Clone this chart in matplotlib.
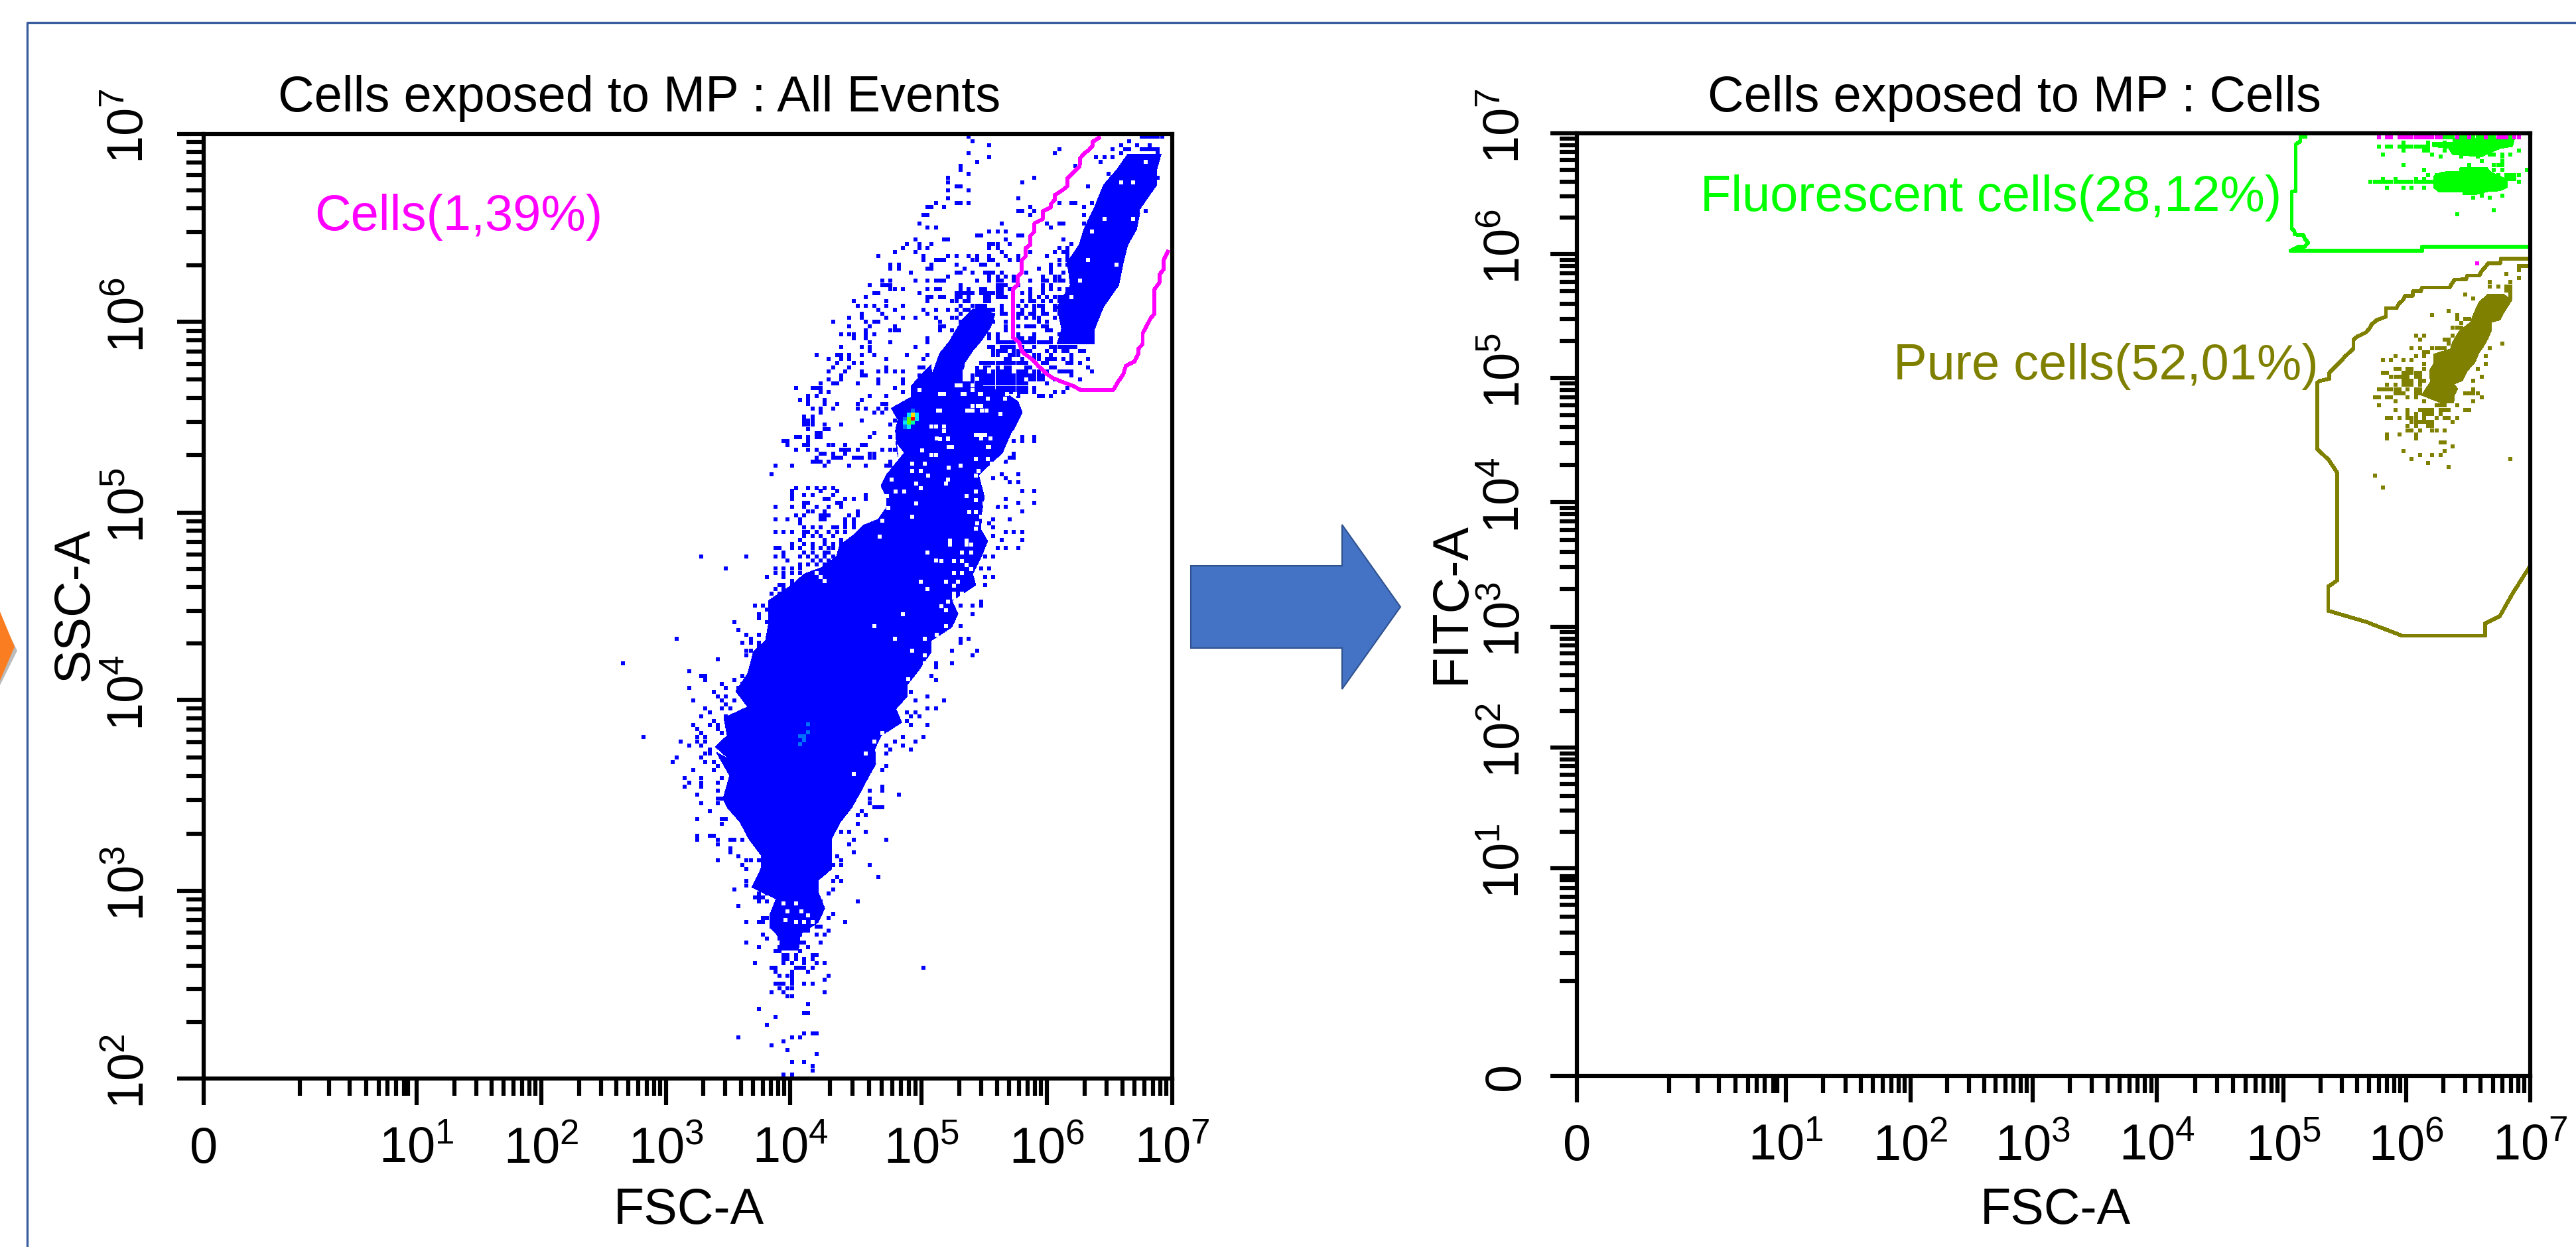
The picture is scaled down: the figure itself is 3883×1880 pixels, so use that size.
import matplotlib
matplotlib.use("Agg")
import matplotlib.pyplot as plt
import numpy as np
from matplotlib.patches import Polygon
from matplotlib.lines import Line2D
from matplotlib.transforms import ScaledTranslation

plt.rcParams["font.family"] = ["Liberation Sans", "DejaVu Sans"]
plt.rcParams["mathtext.default"] = "regular"

W, H = 3883, 1881
DPI = 100
FS = 54.5
CELL_S = 20
GATE_LW = 3.4

# everything below is in instrument channels (one channel = one plot cell)
# decade ticks, left plot
left_xticks = [0, 51.8, 82.1, 112.4, 142.6, 174.5, 205, 235.5]
left_yticks = [0, 45.6, 92.1, 137.6, 184, 229.8]
left_ylabels = ["$10^{2}$", "$10^{3}$", "$10^{4}$", "$10^{5}$", "$10^{6}$", "$10^{7}$"]
# decade ticks, right plot
right_xticks = [0, 50.8, 81.1, 110.8, 141, 171.8, 201.6, 231.8]
right_yticks = [0, 50.5, 79.8, 109.2, 139.5, 169.7, 199.8, 229.2]
xlabels = ["0", "$10^{1}$", "$10^{2}$", "$10^{3}$", "$10^{4}$", "$10^{5}$", "$10^{6}$", "$10^{7}$"]
right_ylabels = xlabels

# dense part of all events
core_x = [139.8, 140.3, 137.6, 137.6, 139.2, 133.3, 135.5, 135.5, 132.5, 130.4, 127.4, 126.3, 127.9, 124.7,
          128, 124.4, 127.3, 126.5, 132.3, 129.4, 132.3, 133.7, 136.6, 137.3, 137.3, 143, 146, 150.3, 153.9,
          154.6, 158.2, 160.3, 164, 166, 166, 164.7, 166, 170.4, 168.3, 168.8, 168.2, 168.8, 167.2, 172, 172,
          176.9, 177, 179, 181.2, 182.8, 184.4, 187.1, 192.4, 191.4, 189.2, 187, 185, 184.4, 195, 198, 199,
          197, 196.3, 194.2, 188.4, 189.8, 189.1, 189, 190.6, 189.1, 187, 187.7, 181.9, 183.4, 181.9, 176.9,
          176.9, 174, 171.1, 171.1, 168.3, 169.7, 164.7, 163.2, 163.4, 161.8, 159.7, 157.5, 154.8, 152.7,
          152.7, 152.7, 149.4, 149.4, 151, 149.4, 145.1, 144.6]
core_y = [31.2, 34, 36.9, 39.7, 43.7, 46.5, 51, 54.4, 58.4, 62.4, 65.8, 68, 73.7, 79.3,
          77.5, 80.7, 83.4, 87.7, 90.4, 94.2, 98.5, 103.8, 106.5, 110.3, 116.2, 120, 122.7, 124.3, 127,
          129.6, 132.3, 134.5, 136, 138.8, 141.5, 144.2, 146.8, 152.2, 154.9, 151.2, 157.6, 160.3, 163, 165.7, 168.4,
          173.7, 171, 176.4, 179.1, 181.8, 184.5, 187.2, 186, 182.9, 179.6, 177, 174, 170, 166.7, 164.6, 162,
          158, 157, 152.2, 146.8, 141.5, 137.2, 133.4, 130.7, 127, 122.7, 120, 116.2, 113, 109.8, 106.5,
          103.8, 99.5, 95.8, 93, 89.9, 86.6, 83.4, 80.2, 76.5, 73.7, 69.7, 65.8, 62.4, 58.4,
          54.4, 51, 48.2, 45.4, 41.4, 38, 35.2, 31.2]
lobe_x = [218.8, 222, 224.7, 232.8, 231.7, 231.7, 227.9, 226.8, 224.7, 223.6, 222.5, 218.8, 216.6, 216.6,
          207.5, 208.6, 207.5, 210.7, 210, 212.9, 214, 216.6]
lobe_y = [217.3, 221, 224.8, 224.8, 221, 217.3, 211.9, 206.5, 202.8, 198.5, 193, 187.7, 182.3, 178.6,
          178.6, 182.3, 187.7, 193, 198.5, 202.8, 206.5, 211.9]

# single events, row by row
blue_rows_y = [229, 228, 227, 226, 225, 224, 223, 222, 221, 220, 219, 218, 217, 216, 214, 213, 212, 211, 210,
               208, 207, 206, 205, 204, 203, 202, 201, 200, 199, 198, 197, 196, 195, 194, 193, 192, 191, 190,
               189, 188, 187, 186, 185, 184, 183, 182, 181, 180, 179, 178, 177, 176, 175, 174, 173, 172, 171,
               170, 169, 168, 167, 166, 165, 164, 163, 162, 161, 160, 159, 158, 157, 156, 155, 154, 153, 152,
               151, 150, 149, 147, 146, 145, 143.6, 143, 142, 141, 140, 139, 138, 137, 136, 135, 134, 133, 132,
               131, 130, 129, 128, 127, 126, 125, 124, 123, 122, 121, 120, 119, 118, 117, 116, 115, 114, 113,
               112, 111, 110, 109, 108, 107, 106, 105, 104, 103, 102, 101, 100, 99, 98, 97, 96, 95, 94, 93, 92,
               91, 90, 89, 88, 87, 86, 85, 84, 83, 82, 81, 80, 79, 78, 77, 76, 75, 73, 72, 71, 70, 69, 68, 67,
               66, 65, 64, 63, 62, 60, 59, 58, 57, 56, 55, 54, 53, 52, 51, 49, 48, 47, 46, 45, 44, 43, 42, 40,
               39, 38, 37, 36, 35, 34, 33, 32, 31, 30, 29, 28, 27, 26, 25, 24, 23, 22, 21, 20, 18, 17, 16, 15,
               13, 11, 10, 9, 8, 7, 6, 4, 3, 2, 1]
blue_rows_x = [
    [186, 228, 229, 230, 231, 232, 233], [187, 225], [191, 223, 227, 230], [208, 221, 224, 225, 228, 229, 230, 231, 232],
    [186, 207, 223, 232], [191, 217, 219, 221, 230], [188, 218, 224, 226, 229, 231], [184, 212], [184], [186, 220],
    [181, 202, 232], [199, 181], [183, 184, 215], [181, 186], [198, 181], [178, 183, 184, 186, 208, 211, 212, 216],
    [176, 177, 180, 201, 214, 180], [198, 199, 202, 229], [175, 176, 201, 214],
    [194, 205, 208, 209, 214, 174], [206, 176, 178], [193, 195, 191], [189, 198, 199, 188], [181, 195, 209, 173, 180],
    [192, 193, 196, 211, 171, 174, 177, 191], [176, 191, 193, 208, 210, 170, 174, 191], [194, 201, 207, 209, 210, 168, 173],
    [181, 183, 186, 191, 195, 198, 205, 210, 213, 164, 175, 188, 191],
    [178, 179, 187, 188, 192, 196, 198, 208, 210, 175, 178, 180, 187, 191],
    [183, 189, 190, 193, 206, 208, 210, 183, 189, 190, 167, 169, 177],
    [176, 185, 203, 206, 167, 169, 177], [183, 184, 187, 190, 191, 192, 194, 200, 206, 209, 172, 183, 187, 191],
    [181, 191, 193, 195, 197, 204, 207, 208, 181, 191],
    [178, 179, 180, 188, 191, 193, 194, 197, 201, 204, 205, 207, 208, 209, 165, 167, 173, 176],
    [184, 193, 194, 195, 198, 204, 206, 208, 210, 162, 165, 166, 167, 184],
    [178, 184, 186, 190, 193, 194, 196, 201, 204, 206, 208, 210, 167, 168, 170, 176, 179, 186, 189],
    [183, 184, 185, 186, 187, 190, 191, 192, 193, 194, 199, 201, 204, 163, 164, 174, 183, 189, 190, 191],
    [176, 179, 183, 184, 186, 190, 191, 193, 194, 195, 201, 203, 205, 207, 208, 209, 161, 177, 180],
    [182, 183, 185, 186, 190, 191, 199, 201, 202, 204, 206, 208, 158, 166, 176, 182, 185, 191],
    [184, 187, 188, 189, 190, 194, 198, 200, 202, 203, 204, 207, 208, 159, 161, 163, 166, 170],
    [178, 181, 183, 185, 186, 188, 189, 190, 191, 192, 194, 199, 202, 204, 207, 164, 168, 175],
    [184, 187, 188, 189, 190, 191, 194, 195, 198, 199, 201, 202, 204, 205, 208, 160, 165, 176],
    [178, 182, 183, 186, 187, 188, 189, 190, 198, 200, 202, 203, 207, 157, 160, 166, 170, 173, 178],
    [179, 184, 185, 186, 187, 188, 189, 190, 191, 192, 195, 203, 205, 209, 210, 153, 161, 163, 164, 179],
    [179, 195, 198, 200, 201, 202, 204, 205, 157, 162, 168, 180], [179, 182, 195, 205, 206, 209, 161, 167, 168, 169],
    [191, 193, 198, 202, 208, 210, 212, 155, 157, 158, 161, 163],
    [191, 193, 198, 199, 201, 202, 206, 209, 158, 161, 176], [193, 194, 195, 196, 197, 199, 200, 201, 202, 203, 204, 205, 206, 162, 167, 176],
    [191, 192, 194, 195, 196, 197, 199, 202, 206, 207, 208, 209, 210, 211, 212, 155, 160, 162, 173],
    [192, 193, 194, 195, 197, 198, 200, 201, 205, 207, 209, 210, 213, 214, 162],
    [192, 193, 196, 197, 198, 202, 203, 206, 211, 149, 154, 155, 157, 160, 163, 171, 176],
    [195, 196, 199, 202, 203, 205, 206, 207, 209, 211, 215, 152, 155, 157, 166, 175],
    [189, 190, 191, 192, 193, 194, 195, 197, 204, 205, 210, 211, 213, 154, 158, 160],
    [188, 190, 191, 193, 195, 196, 200, 201, 206, 207, 215, 153, 157, 166, 174, 175],
    [188, 189, 190, 192, 193, 195, 196, 199, 202, 203, 205, 211, 216, 152, 156, 160, 164, 166, 168, 170],
    [187, 188, 189, 191, 192, 193, 195, 197, 198, 202, 204, 211, 155, 160, 161, 174, 176],
    [187, 188, 190, 191, 192, 199, 201, 202, 203, 204, 207, 213, 152, 155, 164, 170],
    [190, 194, 195, 199, 205, 150, 153, 154, 159, 164, 170, 175], [194, 195, 198, 200, 202, 210, 144, 148, 149, 150, 168],
    [196, 197, 202, 207, 209, 150, 152, 170], [198, 203, 204, 206, 147, 149, 162, 166],
    [145, 147, 151, 160], [147, 151, 154, 159, 165, 166], [148, 150, 153, 159, 161, 164, 166], [150, 163, 165],
    [146, 148], [146, 147, 148, 160, 168], [146, 147, 148, 151, 155, 167], [147, 151, 152], [149, 150, 163],
    [144, 145, 147, 149, 150, 162, 167, 199, 202], [141, 142, 147, 197, 199, 202], [142, 146, 147, 152, 153, 156, 160, 161],
    [144, 147, 149, 155, 156, 157, 159, 165, 167, 168], [150, 151, 153, 156, 162, 163, 197],
    [149, 153, 154, 155, 158, 159, 160, 162, 163, 170, 196, 197], [148, 149, 150, 152, 167, 195],
    [139, 143, 151, 157, 161, 166, 167, 170], [138, 198, 194], [192, 195], [196, 198],
    [144, 147, 149, 151, 153], [143, 150, 154, 199, 202], [143, 146, 148, 153, 161], [143, 151, 152, 156, 158, 161, 195],
    [146, 147, 154, 155, 198, 202], [139, 143, 146, 149, 152, 155, 195, 193], [147, 148, 151, 159, 199],
    [144, 146, 150, 151, 152, 157, 159], [139, 142, 145, 150, 151, 156, 158, 192, 196], [145, 156, 158, 191],
    [146, 148, 150, 153, 154, 156, 158, 192], [139, 141, 143, 146, 147, 149, 152, 154, 156, 195, 197, 199],
    [146, 148, 150, 153, 192], [145, 151, 155, 158, 194, 199], [143, 146, 148, 151, 153, 155],
    [139, 140, 143, 145, 148, 150, 152, 153, 193, 195, 198], [141, 146, 148, 151, 152],
    [121, 132, 139, 141, 145, 147, 149, 151, 153, 190, 192], [142, 148, 150, 152, 154], [145, 147, 149, 151, 153],
    [127, 139, 141, 143, 145, 189, 191], [139, 141, 143, 145], [137, 141, 190, 192], [143, 145, 147], [140, 141, 143, 190],
    [139, 141, 143], [138, 140], [142], [189], [134, 136, 184, 187, 189], [137], [135, 138, 187], [135, 138], [129, 137],
    [184], [130], [132, 135], [115, 133, 184, 186], [131, 133, 135, 184], [135], [132, 133, 182, 188], [132, 187],
    [125], [102, 178, 182], [178], [118], [121, 122, 131, 177], [122, 129, 178], [126, 131], [118, 127, 130], [124, 172],
    [125, 127, 176], [119, 126, 129, 173, 180], [127], [122, 126, 128, 176, 178], [123, 171, 173], [121, 127, 172, 174],
    [124, 171], [119, 123, 125, 172, 176], [120, 125], [121, 126], [107, 120, 122, 170, 175], [116, 120, 122, 168, 173],
    [118, 121, 170, 166], [123, 172, 167], [122, 123, 166], [115, 121], [114, 122, 124, 127], [125, 166], [119, 124, 165],
    [117, 121, 126], [118, 121, 125], [117, 121, 165], [125, 165, 162], [120, 169], [125, 126, 162], [121, 125, 162],
    [163, 164, 165], [123, 160], [159, 161], [120, 126, 127], [126, 159], [155, 157, 161], [120, 123, 124],
    [120, 125, 128, 129, 131, 158, 166], [125, 157], [128], [128, 158], [130, 154], [125, 132, 133, 135, 155],
    [131, 153, 155, 162], [132], [154, 164], [132, 153, 155], [132], [129, 136, 153], [135, 137, 152], [134, 135, 136, 149],
    [135, 137, 150, 159], [130], [153], [136, 137, 152], [132, 135, 136, 148, 156], [138, 139, 142, 144, 149, 150],
    [140, 141, 144, 146, 147, 152], [136, 141, 142, 143, 144, 145, 149, 151], [137, 140, 141, 142, 143, 144],
    [132, 141, 142, 143, 145, 146, 150], [135, 140, 141, 142, 143, 144, 147], [139, 140, 145], [141, 142, 144, 148, 149],
    [141, 142, 144, 146, 148], [134, 141, 143, 146, 149, 151], [138, 139, 144, 145, 146, 148, 175], [139, 143, 147],
    [140, 142, 143, 152], [143, 151], [139, 140, 141, 143, 146, 148], [140, 142, 143], [138, 141, 151], [142, 143],
    [147], [135], [146, 147], [139], [137], [146, 148, 149], [130, 143, 145], [141], [138], [142], [149], [143, 146],
    [148], [148], [141, 143]]

# fuller rows between the branch and the gate
fill_rows_y = [174, 172, 171, 170, 169, 168, 167]
fill_rows_x = [[189, 190, 191, 192, 193, 194, 195, 196, 197, 198, 199, 200],
               [188, 189, 190, 192, 193, 194, 195, 196, 198, 199, 200, 208, 209, 210, 211],
               [186, 187, 188, 189, 190, 191, 192, 193, 194, 195, 196, 197, 198, 199, 200, 201, 202, 203, 204],
               [186, 187, 188, 189, 190, 191, 192, 193, 194, 195, 196, 197, 198, 199],
               [186, 187, 188, 189, 190, 191, 192, 193, 194, 195, 196, 197, 198, 199, 200],
               [187, 188, 189, 190, 191, 192, 193, 194, 195, 196, 197, 198, 199, 200],
               [189, 190, 191, 192, 193, 194, 195, 196, 197, 198, 199, 200]]

# white gaps inside the dense part
hole_x = [179, 187, 189, 186, 187, 177, 178, 180, 180, 174, 183, 184, 187, 187, 180, 185, 189, 188, 190, 179, 181, 182, 191,
          219, 226, 216, 223, 226, 229, 215, 228, 222, 213, 208, 210, 211,
          149, 150, 151, 163, 168, 170, 176, 181, 188, 176, 178, 184, 163, 161, 165, 158,
          179, 184.6, 188.7, 190.7, 194.9, 188.2, 178.5, 185.7, 189.2, 190.3, 193.8, 195.4, 197.3,
          178.3, 180.9, 187.7, 189.1, 189.1, 191.3, 181.2, 190.6, 174.7, 176.9, 178, 187.7, 190.6, 194.2,
          172.2, 175.3, 191.6, 181.2, 172.2, 174.4, 188.4, 176.2, 187.7, 190.6, 180.9, 190.6, 167.2, 173.3,
          180.5, 174.4, 168.3, 170.4, 187.7, 166.1, 185.5, 187.7, 173.3, 189.8, 192.4, 166.5, 186.1, 187.7,
          172.2, 189.1, 165, 187.7, 164.3, 181.4, 185.5, 181.4, 185.5, 186.6, 184.4, 186.6, 179.4, 182.5,
          184.4, 185.5, 186.6, 182.5, 184.4, 174.4, 180.5, 183.4, 182.4, 182.4, 184.4, 182.4, 179.4, 180.5,
          180.5, 178.3, 175.3, 172.2, 175.3, 175.3, 172.2, 171.3,
          185, 186, 185, 186, 185, 186, 188, 188, 191, 186, 187,
          142, 145.4, 147, 144, 146, 148, 141, 144, 141.5]
hole_y = [162.5, 163.5, 163.5, 162.5, 162.5, 158.5, 158.5, 158.5, 157.5, 167.5, 168.5, 168.5, 168.5, 167.5, 166.5, 166.5, 166.5, 156.5, 156.5, 155.5, 155.5, 153.5, 153.5,
          209, 209, 206, 218, 218, 223, 199, 211, 198, 194, 193, 193, 190,
          123, 122, 121, 110, 107, 113, 119, 116, 135, 128, 126, 149, 82, 79, 84, 74,
          166.5, 166.5, 166.5, 165.4, 165.4, 163.5, 162.5, 162.5, 162.5, 162.5, 161.6, 166.5, 166.5,
          155.6, 155.6, 156.5, 156.5, 155.6, 155.6, 153.6, 153.6, 152.7, 151.7, 151.7, 150.6, 150.6, 150.6,
          149.6, 149.6, 149.6, 148.6, 147.7, 147.7, 147.7, 146.7, 146.7, 146.7, 145.7, 145.7, 145.7, 144.7,
          144.7, 143.6, 142.7, 142.7, 142.7, 141.7, 141.7, 140.7, 139.8, 139.8, 139.8, 138.8, 137.7, 137.7,
          136.7, 136.7, 135.7, 133.8, 131.8, 130.9, 130.9, 129.9, 129.9, 129.9, 127.9, 127.9, 125.9, 125.9,
          125.9, 124.9, 123.9, 122.9, 122.9, 120.9, 120.9, 120.9, 119.9, 117.9, 117.9, 116.9, 114.9, 113.9,
          110, 108, 107, 104, 103, 101, 95.8, 97.1,
          172, 172, 171, 171, 170, 170, 173.7, 170.2, 172.4, 173.5, 173.5,
          40.6, 40.6, 39.7, 38, 38, 38, 42.6, 42.6, 38.6]

# hot spot of all events
hot_x = [172.4, 171.4, 172.4, 173.4, 170.5, 171.4, 172.4, 173.4, 170.5, 171.4, 172.4, 170.5, 171.4]
hot_y = [162.4, 161.4, 161.4, 161.4, 160.4, 160.4, 160.4, 160.4, 159.5, 159.5, 159.5, 158.5, 158.5]
hot_c = ["#0070FF", "#00E5FF", "#FFD700", "#00E5FF", "#0070FF", "#60FF00", "#FF0000", "#00E5FF",
         "#00E5FF", "#60FF00", "#00FFA0", "#0070FF", "#00E5FF"]
warm_x = [147, 147, 145, 146, 146, 145]
warm_y = [86.2, 84.2, 83.2, 83.2, 82.2, 81.3]

# gate on the left plot
cells_gate_x = [217.7, 216.1, 216.1, 215.3, 214, 213.1, 213, 212, 211, 210, 210, 208.6, 207, 207, 206, 206, 204, 204,
                202, 202, 201, 201, 199.9, 199.9, 198.9, 198.9, 197.9, 197.9, 196.8, 196.8, 198.3, 198.9, 199.4,
                200.9, 202, 202.9, 204, 205, 206.4, 208.8, 211.5, 213.1, 221.2, 222.3, 223.6, 224.2, 226.3, 227.3,
                227.3, 228.3, 228.3, 229.3, 230.3, 231.2, 231.2, 232.4, 232.4, 233.4, 233.4, 234.4]
cells_gate_y = [228.8, 227.8, 226.8, 225.9, 224.9, 223.8, 221.8, 220.9, 219.9, 218.9, 217, 215.9, 214.9, 213.8, 212.7, 211.9, 210.9, 209,
                208, 206, 205, 202.8, 202, 200, 199, 196, 195, 193, 192, 180.2, 179, 177, 176.4,
                175.3, 174.4, 173.3, 172.4, 171.3, 170.4, 169.4, 168.4, 167.5, 167.5, 169.4, 171.3, 173.3, 174.4, 176.4,
                177.5, 178.6, 181.2, 183.1, 185, 186, 192, 193.6, 195.5, 196.8, 199, 201.1]

# gates on the right plot
pure_gate_x = [231.4, 224.7, 224.5, 221.6, 220.8, 219.9, 219.4, 216.5, 216.2, 213.4, 212.7, 212.2, 205.5, 205.2, 203.3,
               203.2, 201.4, 200.9, 199.8, 199.3, 196.7, 196.7, 194.5, 193.3, 192.8, 191.9, 189.6, 188.8, 188.8, 187.8,
               186.7, 185.8, 184.8, 183.9, 182.9, 182.9, 180.6, 180, 180, 182.7, 184.9, 184.9, 182.7, 182.7, 191.9,
               200.7, 220.8, 220.8, 224.4, 227.7, 231.4]
pure_gate_y = [198.7, 198.7, 197.6, 197.6, 196.6, 195.6, 194.6, 194.6, 193.7, 193.6, 192.6, 191.7, 191.7, 190.8, 190.8,
               189.7, 189.7, 188.7, 187.7, 186.7, 186.7, 184.6, 183.8, 182.8, 181.9, 180.8, 179.7, 178.9, 176.8, 175.9,
               174.9, 173.8, 172.9, 171.9, 170.9, 169.5, 169, 168.5, 152.4, 149.9, 146.6, 120.5, 119, 113.1, 110.4,
               107, 107, 110, 111.8, 117.6, 123.4]
fluo_gate_x = [231.4, 205.5, 205.5, 173.5, 175.5, 176.9, 177.8, 176.9, 176.6, 174.6, 174.4, 173.8, 173.8, 174.8, 174.8,
               175.9, 175.9, 177.2]
fluo_gate_y = [201.6, 201.6, 200.6, 200.6, 201.6, 201.6, 202.6, 203.7, 204.5, 204.6, 205.5, 206.1, 215, 215.2, 226.5,
               227.3, 228.4, 228.4]

# fluorescent cells
green_top_x = [213, 228, 227.5, 224.5, 222, 220, 213, 212, 208, 208, 213]
green_top_y = [228, 228, 226, 225.5, 224.5, 223.5, 224, 225.5, 226, 227, 227]
green_low_x = [214.8, 221.3, 222.2, 224.4, 226.2, 226.2, 224.4, 221.3, 218.2, 215.4, 215.4, 209.5, 208.3, 208.3, 210.3, 214.8]
green_low_y = [220.9, 220.9, 219.8, 218.8, 217.9, 216, 215.2, 215, 214.2, 214.2, 215, 215, 216, 218.8, 219.8, 220]
green_rows_y = [228.3, 227, 226, 225, 224, 223.5, 222.5, 221.4, 220.4, 219, 218, 217.5, 216, 215, 214, 213.5, 210.5, 209.5]
green_rows_x = [[211, 212, 213, 215, 216, 217, 218, 219, 220, 222, 223, 227],
                [201, 207, 211], [195, 197, 198, 200, 201, 202, 203, 204, 205, 206, 207],
                [201, 206, 207, 211, 229], [196, 208, 222, 223, 225, 227], [210, 215, 219, 225], [220, 225],
                [201, 217, 223, 224, 225], [206, 215, 216, 217, 218, 219, 220, 221, 223, 225, 231],
                [207, 209, 224, 226, 227, 228, 229], [196, 199, 204, 206, 226, 227, 228],
                [193, 194, 195, 196, 197, 198, 199, 200, 201, 202, 203, 204, 205, 206, 207, 208, 229],
                [197, 201, 203, 206], [220], [220, 225], [218, 222], [223], [214]]
magenta_x = [195, 197, 198, 200, 201, 202, 203, 204, 205, 206, 207, 208, 209, 210, 214, 217, 221, 224, 225, 226, 228, 229, 218.9]
magenta_y = [228.3] * 22 + [197.6]

# pure cells
olive_x = [221.5, 219.3, 218.3, 217.2, 214.5, 212.9, 212.4, 208.3, 208.3, 207.3, 207.5, 206.4, 205.4, 210.2, 213.2, 213.4,
           214.2, 213.2, 215.3, 216.4, 217.2, 218.3, 219.3, 220.4, 221.5, 222.3, 222.3, 224.5, 225.3, 226.3, 227.3, 225.3]
olive_y = [190.1, 188.1, 185.9, 183.2, 181.1, 178.4, 176.8, 175.5, 173.3, 171.4, 168.7, 167.1, 165.5, 163.6, 163.6, 165.5,
           167.1, 168.2, 169, 171.2, 172.2, 173.3, 175.7, 177.3, 179.2, 181.1, 183.2, 183.8, 185.4, 187, 188.6, 190.1]
olive_rows_y = [197, 196, 195, 194, 193, 192, 191, 190, 189, 186, 185, 184, 183, 182, 180, 179, 178, 177, 176, 175, 174, 173,
                172, 171, 170, 169, 168, 167, 166, 165, 164, 163, 162, 161, 160, 159, 158, 157, 156, 155, 154, 153, 152,
                151, 150, 149, 148, 146, 143]
olive_rows_x = [[229, 230, 231], [229], [226], [229], [222, 227], [222, 224, 226, 227], [226, 227], [216, 227], [218, 227], [212],
                [208, 214], [214, 216, 217], [215], [213, 214, 215], [204, 206, 213], [205, 211, 212], [212, 225],
                [203, 205, 208, 209, 210, 211, 222], [206, 207], [199, 204, 206, 209, 221], [196, 198, 201, 203, 209], [206, 221],
                [199, 200, 202, 203, 206, 219], [196, 197, 201, 202, 203, 204, 205],
                [198, 199, 200, 201, 202, 204, 205, 220], [201, 202, 203, 205, 206, 218], [197, 199, 201, 202, 203, 205],
                [195, 196, 197, 198, 199, 200, 202, 204, 205, 218], [199, 200, 201, 204, 205, 216, 217, 218, 219],
                [194, 195, 197, 198, 202, 204, 220], [199, 206, 218], [195, 209, 210, 211, 214],
                [199, 202, 205, 206, 207, 208, 210, 211, 212, 216, 217], [202, 204, 206, 207, 208, 210],
                [197, 198, 200, 202, 203, 204, 206, 209, 211, 212, 214], [203, 204, 205, 206, 207, 208, 213], [202, 204, 207, 208],
                [202, 203, 205, 208, 209, 211], [197, 200, 204], [197, 204], [210, 211], [213], [201, 211], [205, 208, 210],
                [203, 227], [207], [212], [194], [196]]


def expand(rows_y, rows_x):
    xs, ys = [], []
    for y, row in zip(rows_y, rows_x):
        xs += row
        ys += [y] * len(row)
    return xs, ys


def minor_ticks(ticks, has_zero):
    out = []
    start = 1 if has_zero else 0
    for a, b in zip(ticks[start:-1], ticks[start + 1:]):
        out += list(a + np.log10(np.arange(2, 10)) * (b - a))
    if has_zero:
        d = ticks[2] - ticks[1]
        out += [ticks[1] - (1 - f) * d for f in [0.062, 0.295, 0.463, 0.596, 0.696, 0.764, 0.832, 0.90, 0.932]]
    return out


def make_axes(px_left, px_right, px_top, px_bottom):
    ax = fig.add_axes([px_left / W, 1 - px_bottom / H, (px_right - px_left) / W, (px_bottom - px_top) / H])
    for side in ax.spines.values():
        side.set_linewidth(4.46)
        side.set_zorder(6)
    return ax


def style_ticks(ax, xticks, xlab, yticks, ylab, yminor, ypad):
    ax.set_xlim(xticks[0], xticks[-1])
    ax.set_ylim(yticks[0], yticks[-1])
    ax.set_xticks(xticks)
    ax.set_xticklabels(xlab, fontsize=FS, va="baseline")
    ax.set_yticks(yticks)
    ax.set_yticklabels(ylab, fontsize=FS, rotation=90, va="center")
    ax.set_xticks(minor_ticks(xticks, True), minor=True)
    ax.set_yticks(yminor, minor=True)
    ax.tick_params(axis="both", which="major", length=28.8, width=4.46)
    ax.tick_params(axis="both", which="minor", length=18.7, width=4.46)
    ax.tick_params(axis="x", which="major", pad=62)
    ax.tick_params(axis="y", which="major", pad=ypad)
    up = ScaledTranslation(0, 12 / DPI, fig.dpi_scale_trans)
    for lab in ax.get_yticklabels():
        if lab.get_text() != "0":
            lab.set_transform(lab.get_transform() + up)


fig = plt.figure(figsize=(W / DPI, H / DPI), dpi=DPI)

# slide decoration
fig.add_artist(Line2D([41 / W, 41 / W, 1], [0, 1 - 35 / H, 1 - 35 / H], color="#3A5DA0", lw=2.4))
shadow = [(0, 1 - 930 / H), (26 / W, 1 - 982 / H), (0, 1 - 1034 / H)]
fig.add_artist(Polygon(shadow, closed=True, transform=fig.transFigure, fc="#BBBBBB", ec="none"))
orange = [(0, 1 - 923 / H), (22 / W, 1 - 976 / H), (0, 1 - 1027 / H)]
fig.add_artist(Polygon(orange, closed=True, transform=fig.transFigure, fc="#FA7D21", ec="none"))
arrow = [(1795, 854), (2023, 854), (2023, 792), (2111, 916), (2023, 1040), (2023, 978), (1795, 978)]
fig.add_artist(Polygon([(x / W, 1 - y / H) for x, y in arrow], closed=True, transform=fig.transFigure,
                       fc="#4472C4", ec="#2F528F", lw=1.5))

# left plot
ax1 = make_axes(307, 1767, 202.5, 1627)
ax1.fill(core_x, core_y, color="#0000FF", lw=0, antialiased=False, zorder=2)
ax1.fill(lobe_x, lobe_y, color="#0000FF", lw=0, antialiased=False, zorder=2)
bx, by = expand(blue_rows_y, blue_rows_x)
fx, fy = expand(fill_rows_y, fill_rows_x)
ax1.scatter(bx + fx, by + fy, s=CELL_S, marker="s", color="#0000FF", linewidths=0, zorder=2)
ax1.scatter(hole_x, hole_y, s=CELL_S, marker="s", color="white", linewidths=0, zorder=3)
ax1.scatter(warm_x, warm_y, s=CELL_S, marker="s", color="#0070FF", linewidths=0, zorder=3)
ax1.scatter(hot_x, hot_y, s=CELL_S, marker="s", c=hot_c, linewidths=0, zorder=4)
ax1.plot(cells_gate_x, cells_gate_y, color="#FF00FF", lw=GATE_LW, antialiased=False, zorder=5)
style_ticks(ax1, left_xticks, xlabels, left_yticks, left_ylabels, minor_ticks(left_yticks, False), 25)
ax1.text(27, 206.5, "Cells(1,39%)", color="#FF00FF", fontsize=FS, va="baseline", ha="left")
ax1.set_title("Cells exposed to MP : All Events", fontsize=FS, x=(964 - 307) / 1460, pad=24.5, va="baseline")
ax1.set_xlabel("FSC-A", fontsize=FS, va="baseline")
ax1.xaxis.set_label_coords((1038 - 307) / 1460, (1627 - 1845) / 1424.5)
ax1.set_ylabel("SSC-A", fontsize=FS, va="baseline")
ax1.yaxis.set_label_coords((133 - 307) / 1460, (1627 - 911) / 1424.5)

# right plot
ax2 = make_axes(2377, 3814, 202, 1623)
ax2.fill(green_top_x, green_top_y, color="#00FF00", lw=0, antialiased=False, zorder=2)
ax2.fill(green_low_x, green_low_y, color="#00FF00", lw=0, antialiased=False, zorder=2)
gx, gy = expand(green_rows_y, green_rows_x)
ax2.scatter(gx, gy, s=CELL_S, marker="s", color="#00FF00", linewidths=0, zorder=2)
ax2.scatter(magenta_x, magenta_y, s=CELL_S, marker="s", color="#FF00FF", linewidths=0, zorder=3)
ax2.fill(olive_x, olive_y, color="#808000", lw=0, antialiased=False, zorder=2)
ox, oy = expand(olive_rows_y, olive_rows_x)
ax2.scatter(ox, oy, s=CELL_S, marker="s", color="#808000", linewidths=0, zorder=2)
ax2.plot(pure_gate_x, pure_gate_y, color="#808000", lw=GATE_LW, antialiased=False, zorder=5)
ax2.plot(fluo_gate_x, fluo_gate_y, color="#00FF00", lw=GATE_LW, antialiased=False, zorder=5)
style_ticks(ax2, right_xticks, xlabels, right_yticks, right_ylabels, minor_ticks(right_yticks, True), 22)
ax2.text(30, 210.5, "Fluorescent cells(28,12%)", color="#00FF00", fontsize=FS, va="baseline", ha="left")
ax2.text(77, 169.5, "Pure cells(52,01%)", color="#808000", fontsize=FS, va="baseline", ha="left")
ax2.set_title("Cells exposed to MP : Cells", fontsize=FS, x=(3036 - 2377) / 1437, pad=24.5, va="baseline")
ax2.set_xlabel("FSC-A", fontsize=FS, va="baseline")
ax2.xaxis.set_label_coords((3098 - 2377) / 1437, (1623 - 1845) / 1421)
ax2.set_ylabel("FITC-A", fontsize=FS, va="baseline")
ax2.yaxis.set_label_coords((2208 - 2377) / 1437, (1623 - 909) / 1421)

fig.savefig("out.png", dpi=DPI)
